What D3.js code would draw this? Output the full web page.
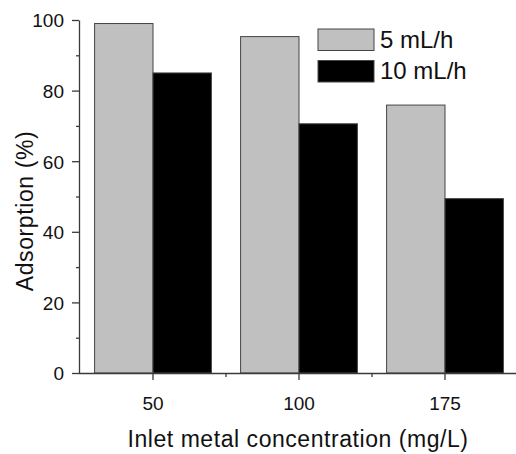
<!DOCTYPE html>
<html>
<head>
<meta charset="utf-8">
<script src="https://cdn.jsdelivr.net/npm/d3@7"></script>
<style>
  html, body { margin: 0; padding: 0; background: #fff; }
  svg { display: block; font-family: "Liberation Sans", Arial, sans-serif; }
</style>
</head>
<body>
<svg id="chart" width="516" height="454"></svg>
<script>
// Inlet metal concentrations (mg/L) and adsorption (%) at two flow rates
const categories = ["50", "100", "175"];
const seriesNames = ["5 mL/h", "10 mL/h"];
const flow5 = [99, 95.3, 75.9];
const flow10 = [85, 70.6, 49.4];
const yTicks = [0, 20, 40, 60, 80, 100];
const yMinorTicks = [10, 30, 50, 70, 90];

const seriesValues = [flow5, flow10];
const fills = ["#c0c0c0", "#000000"];
const axisColor = "#3a3a3a";
const textColor = "#111";

const svg = d3.select("#chart");

const x = d3.scaleBand().domain(categories).range([80, 518]).paddingInner(0).paddingOuter(0);
const inner = d3.scaleBand().domain(seriesNames).range([0, x.bandwidth() * 0.8]);
const y = d3.scaleLinear().domain([0, 100]).range([373, 20]);

const rows = categories.map((c, i) => ({ cat: c, vals: seriesNames.map((s, j) => ({ s, j, v: seriesValues[j][i] })) }));

// bars
const groups = svg.append("g").selectAll("g").data(rows).join("g")
  .attr("transform", d => `translate(${x(d.cat) + x.bandwidth() * 0.1},0)`);
groups.selectAll("rect").data(d => d.vals).join("rect")
  .attr("x", d => inner(d.s))
  .attr("width", inner.bandwidth())
  .attr("y", d => y(d.v))
  .attr("height", d => y(0) - y(d.v))
  .attr("fill", d => fills[d.j])
  .attr("stroke", "#444")
  .attr("stroke-width", 1);

// y axis with minor ticks
const yAxisG = svg.append("g").attr("transform", "translate(79,0)")
  .call(d3.axisLeft(y).tickValues(yTicks).tickSize(7).tickPadding(8).tickSizeOuter(0));
svg.append("g").attr("transform", "translate(79,0)")
  .call(d3.axisLeft(y).tickValues(yMinorTicks).tickSize(3).tickFormat("").tickSizeOuter(0))
  .call(g => g.selectAll(".tick line").attr("stroke", axisColor).attr("stroke-width", 1.3))
  .select(".domain").remove();

// x axis: major ticks at group centres, minor ticks between groups
const xAxisG = svg.append("g").attr("transform", "translate(0,373)")
  .call(d3.axisBottom(x).tickSize(7).tickPadding(17).tickSizeOuter(0));
xAxisG.select(".domain").attr("d", "M79,0.5H516");
const boundaries = categories.slice(1).map(c => x(c));
svg.append("g").selectAll("line").data(boundaries).join("line")
  .attr("x1", d => d).attr("x2", d => d)
  .attr("y1", 373).attr("y2", 377)
  .attr("stroke", axisColor).attr("stroke-width", 1.3);

[yAxisG, xAxisG].forEach(g => {
  g.selectAll(".domain, .tick line").attr("stroke", axisColor).attr("stroke-width", 1.3);
  g.selectAll(".tick text").attr("font-size", 19).attr("fill", textColor)
    .attr("font-family", "Liberation Sans, Arial, sans-serif");
});
yAxisG.selectAll(".tick text").attr("dy", "0.36em");

// axis titles
svg.append("text")
  .attr("x", 298).attr("y", 447)
  .attr("text-anchor", "middle")
  .attr("font-size", 23).attr("letter-spacing", 0.55).attr("fill", textColor)
  .text("Inlet metal concentration (mg/L)");
svg.append("text")
  .attr("transform", "translate(33,211) rotate(-90)")
  .attr("text-anchor", "middle")
  .attr("font-size", 23).attr("letter-spacing", 0.6).attr("fill", textColor)
  .text("Adsorption (%)");

// legend
const legend = svg.append("g").attr("transform", "translate(318,29)");
const legendRows = legend.selectAll("g").data(seriesNames).join("g")
  .attr("transform", (d, i) => `translate(0,${i * 31.5})`);
legendRows.append("rect")
  .attr("width", 56).attr("height", 21.5)
  .attr("fill", (d, i) => fills[i])
  .attr("stroke", "#444").attr("stroke-width", 1);
legendRows.append("text")
  .attr("x", 62).attr("y", 18.5)
  .attr("font-size", 24).attr("fill", textColor)
  .text(d => d);
</script>
</body>
</html>
